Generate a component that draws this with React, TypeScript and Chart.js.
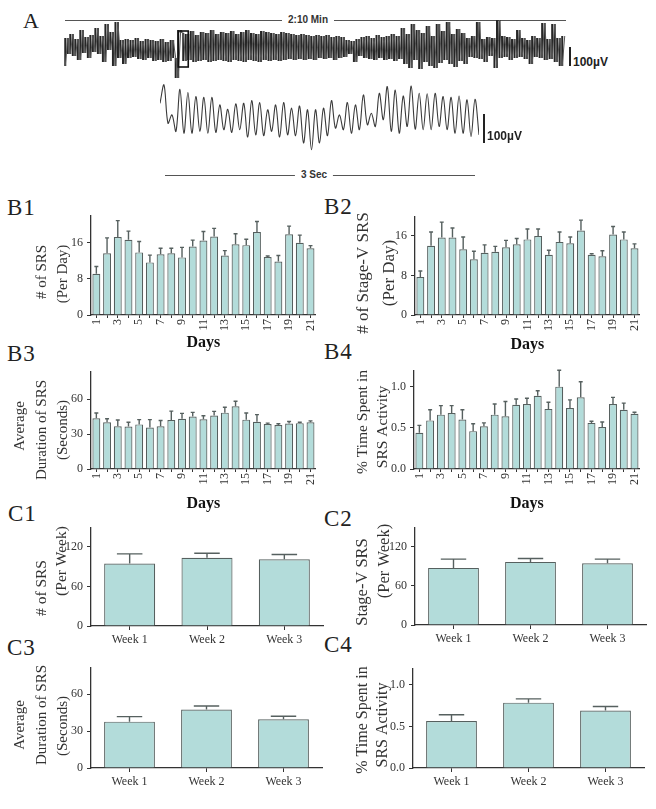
import React, { useEffect, useRef } from "react";
import { Chart, registerables } from "chart.js";
Chart.register(...registerables);

// ---------------- DATA ----------------
const DAYS = ["1","2","3","4","5","6","7","8","9","10","11","12","13","14","15","16","17","18","19","20","21"];
const WEEKS = ["Week 1", "Week 2", "Week 3"];

const B1_MEAN = [9.1, 13.6, 17.2, 16.6, 13.8, 11.6, 13.4, 13.6, 12.7, 15.1, 16.4, 17.3, 13.1, 15.6, 15.4, 18.3, 12.8, 11.8, 17.8, 15.9, 14.7];
const B1_SEM = [1.6, 3.4, 3.6, 1.9, 2.4, 1.6, 1.3, 1.1, 2.2, 1.4, 2.0, 1.8, 1.1, 2.3, 1.3, 2.3, 0.2, 1.3, 1.8, 1.7, 0.6];
const B2_MEAN = [7.7, 14.0, 15.7, 15.7, 13.3, 11.3, 12.6, 12.8, 13.7, 14.3, 15.3, 16.0, 12.2, 14.8, 14.5, 17.1, 12.2, 11.9, 16.3, 15.3, 13.5];
const B2_SEM = [1.2, 2.8, 3.1, 1.9, 2.5, 1.6, 1.6, 1.1, 1.4, 1.2, 2.1, 1.4, 0.9, 2.0, 1.3, 2.1, 0.2, 1.1, 1.6, 1.5, 0.9];
const B3_MEAN = [43.5, 40.2, 36.7, 36.4, 38.3, 35.6, 36.7, 42.1, 43.2, 45.1, 42.7, 45.9, 48.4, 53.8, 42.4, 40.5, 38.6, 37.8, 39.1, 39.4, 40.2];
const B3_SEM = [4.6, 3.0, 5.4, 3.8, 4.1, 6.8, 4.9, 7.6, 4.6, 3.5, 3.0, 3.6, 4.6, 4.4, 5.7, 6.2, 0.8, 1.1, 1.7, 0.8, 1.1];
const B4_MEAN = [0.44, 0.59, 0.66, 0.68, 0.60, 0.46, 0.52, 0.66, 0.64, 0.78, 0.79, 0.89, 0.73, 1.00, 0.74, 0.87, 0.56, 0.51, 0.79, 0.72, 0.67];
const B4_SEM = [0.09, 0.13, 0.11, 0.09, 0.12, 0.09, 0.04, 0.13, 0.18, 0.07, 0.07, 0.06, 0.08, 0.20, 0.10, 0.19, 0.02, 0.06, 0.08, 0.08, 0.02];

const C1_MEAN = [95, 103.7, 101.3];
const C1_SEM = [14.5, 6.7, 7.2];
const C2_MEAN = [87.6, 96.8, 94.8];
const C2_SEM = [13.4, 5.2, 6.2];
const C3_MEAN = [37.7, 47.5, 39.7];
const C3_SEM = [4.1, 2.9, 2.4];
const C4_MEAN = [0.566, 0.786, 0.69];
const C4_SEM = [0.074, 0.045, 0.05];

const TICKS_COUNT_DAY = [0, 8, 16];
const TICKS_DURATION = [0, 30, 60];
const TICKS_PERCENT = [0, 0.5, 1.0];
const TICKS_COUNT_WEEK = [0, 60, 120];
const LABELS_PERCENT = ["0.0", "0.5", "1.0"];

// EEG overview trace (2:10 min), amplitude units
const TOP_TRACE = [
  -18, 10, -6, 14, -8, 9, -12, 18, -5, 11, -10, 13,
  -4, 20, -6, 12, -14, 24, -2, 16, -18, 26, -10, 8, -16,
  9, -10, 8, -9, 10, -11, 7, -12, 9, -10, 8, -13, 7, -12, 9, -14, 6, -13, 8, -10,
  -30, 18,
  15, -13, 14, -12, 17, -14, 13, -13, 16, -12,
  15, -14, 18, -13, 14, -12, 16, -13, 15, -14,
  17, -12, 14, -13, 16, -14, 18, -12, 15, -13,
  14, -14, 17, -12, 16, -13, 15, -12, 14, -13,
  16, -12, 15, -11, 14, -12, 13, -11, 14, -12,
  13, -11, 12, -12, 13, -10, 12, -11, 13, -10,
  11, -12, 12, -10, 11, -9,
  8, -6, 7, -14, 9, -8,
  11, -10, 12, -11, 10, -12, 13, -10, 11, -12, 12, -11, 14, -13, 12, -11,
  20, -16, 14, -20, 24, -12, 18, -21, 15, -14, 22, -18, 12, -20, 24, -15, 17, -12, 26, -16, 14, -19, 19, -13, 15, -16,
  10, -9, 12, -10, 26, -11, 9, -14, 11, -8,
  10, -20, 28, -10, 12, -9, 11, -12, 9, -10,
  18, -9, 10, -11, 8, -16, 12, -9, 10, -10,
  25, -12, 9, -11, 24, -14, 10, -18, 12,
];
// zoomed 3-second segment (µV)
const ZOOM_TRACE = [
  49, 117, -25, 6, -55, 101, -62, 89, -62, 74,
  -55, 71, -62, 71, -59, 43, -49, 27, -59, 47,
  -49, 49, -76, 59, -68, 52, -71, 25, -55, 43,
  -76, 52, -68, 31, -71, 39, -98, 25, -123, 25,
  -98, 31, -71, 59, -43, 6, -49, 52, -62, 43,
  -49, 80, -31, 12, -37, 86, -12, 111, -55, 98,
  -62, 76, -37, 113, -47, 86, -49, 84, -49, 86,
  -37, 74, -49, 71, -62, 76, -62, 62, -74, 64,
  -68,
];
// zoom window marked on the overview trace (indices / amplitudes)
const BOX_START = 45;
const BOX_END = 49;
const BOX_LOW = -19;
const BOX_HIGH = 17;

// ---------------- STYLE ----------------
const SERIF = '"Liberation Serif", "Times New Roman", Times, serif';
const SANS = '"Liberation Sans", Arial, Helvetica, sans-serif';
const INK = "#333333";
const BAR_FILL = "#b3dcda";
const BAR_EDGE = "#56605f";

type TitleLine = { text: string; x: number; cy: number };
type PanelCfg = {
  labels: string[];
  mean: number[];
  sem: number[];
  yMax: number;
  yTicks: number[];
  yTickLabels?: string[];
  yTitle: TitleLine[];
  yTitleSize: number;
  xTitle?: string;
  xTitleCenter?: number;
  canvasLeft: number;
  chartLeft: number;
  chartRight: number;
  chartTop: number;
  chartBottom: number;
  rotate: boolean;
  barPct: number;
};

const errorBarPlugin = {
  id: "errbars",
  afterDatasetsDraw(chart: any, _args: any, opts: any) {
    const ctx = chart.ctx;
    const meta = chart.getDatasetMeta(0);
    const y = chart.scales.y;
    const vals = chart.data.datasets[0].data as number[];
    ctx.save();
    ctx.strokeStyle = BAR_EDGE;
    ctx.lineWidth = 1.4;
    meta.data.forEach((bar: any, i: number) => {
      const top = y.getPixelForValue(vals[i] + opts.errs[i]);
      const cap = bar.width * 0.5;
      ctx.beginPath();
      ctx.moveTo(bar.x, bar.y);
      ctx.lineTo(bar.x, top);
      ctx.moveTo(bar.x - cap / 2, top);
      ctx.lineTo(bar.x + cap / 2, top);
      ctx.stroke();
    });
    ctx.restore();
  },
};

const yTitlePlugin = {
  id: "ytitle",
  afterDraw(chart: any, _a: any, opts: any) {
    const ctx = chart.ctx;
    ctx.save();
    ctx.fillStyle = INK;
    ctx.font = `${opts.size}px ${SERIF}`;
    ctx.textAlign = "center";
    ctx.textBaseline = "middle";
    (opts.lines as TitleLine[]).forEach((ln) => {
      ctx.save();
      ctx.translate(ln.x - opts.left, ln.cy - opts.top);
      ctx.rotate(-Math.PI / 2);
      ctx.fillText(ln.text, 0, 0);
      ctx.restore();
    });
    ctx.restore();
  },
};

function geom(c: PanelCfg) {
  const top = c.chartTop - 6;
  const bottom = c.xTitle ? (c.xTitleCenter as number) + 9.6 : c.chartBottom + 30;
  const width = c.chartRight + 4 - c.canvasLeft;
  return { top, bottom, width, height: Math.round(bottom - top) };
}

function BarPanel({ cfg }: { cfg: PanelCfg }) {
  const ref = useRef<HTMLCanvasElement>(null);
  const g = geom(cfg);
  useEffect(() => {
    const c = cfg;
    const yW = c.chartLeft - c.canvasLeft;
    const xH = g.top + g.height - c.chartBottom;
    const chart = new Chart(ref.current as HTMLCanvasElement, {
      type: "bar",
      data: {
        labels: c.labels,
        datasets: [
          {
            data: c.mean,
            backgroundColor: BAR_FILL,
            borderColor: BAR_EDGE,
            borderWidth: 1.2,
            barPercentage: c.barPct,
            categoryPercentage: 1,
          },
        ],
      },
      options: {
        responsive: false,
        animation: false,
        devicePixelRatio: 1,
        layout: { padding: { top: 6, right: 4, bottom: 0, left: 0 } },
        plugins: {
          legend: { display: false },
          tooltip: { enabled: false },
          // @ts-ignore
          errbars: { errs: c.sem },
          // @ts-ignore
          ytitle: { lines: c.yTitle, size: c.yTitleSize, left: c.canvasLeft, top: g.top },
        },
        scales: {
          x: {
            offset: true,
            grid: { display: true, offset: false, drawOnChartArea: false, drawTicks: true, tickLength: c.rotate ? 3 : 4, color: INK },
            border: { display: true, color: INK, width: 1.3 },
            ticks: {
              autoSkip: false,
              minRotation: c.rotate ? 90 : 0,
              maxRotation: c.rotate ? 90 : 0,
              padding: c.rotate ? 1 : 3,
              color: INK,
              font: { family: SERIF, size: 12 },
              callback: function (this: any, v: any, i: number) {
                if (c.rotate && i % 2 === 1) return "";
                return this.getLabelForValue(v);
              },
            },
            title: c.xTitle
              ? { display: true, text: c.xTitle, color: "#111", font: { family: SERIF, size: 16, weight: "bold", lineHeight: 1.2 }, padding: { top: 0, bottom: 0 } }
              : { display: false },
            afterFit: (s: any) => {
              s.height = xH;
            },
          },
          y: {
            min: 0,
            max: c.yMax,
            grid: { display: true, drawOnChartArea: false, drawTicks: true, tickLength: 4, color: INK },
            border: { display: true, color: INK, width: 1.3 },
            afterBuildTicks: (s: any) => {
              s.ticks = c.yTicks.map((v) => ({ value: v }));
            },
            ticks: {
              padding: 4,
              color: INK,
              font: { family: SERIF, size: 12 },
              callback: (v: any, i: number) => (c.yTickLabels ? c.yTickLabels[i] : String(v)),
            },
            title: { display: false },
            afterFit: (s: any) => {
              s.width = yW;
            },
          },
        },
      },
      plugins: [errorBarPlugin, yTitlePlugin],
    } as any);
    return () => chart.destroy();
  }, [cfg]);
  return (
    <canvas
      ref={ref}
      width={g.width}
      height={g.height}
      style={{ position: "absolute", left: cfg.canvasLeft, top: g.top, width: g.width, height: g.height }}
    />
  );
}

const PANEL_B1: PanelCfg = {
  labels: DAYS, mean: B1_MEAN, sem: B1_SEM, yMax: 22, yTicks: TICKS_COUNT_DAY,
  yTitle: [
    { text: "# of SRS", x: 42, cy: 272 },
    { text: "(Per Day)", x: 63, cy: 274 },
  ],
  yTitleSize: 15,
  xTitle: "Days", xTitleCenter: 342,
  canvasLeft: 0, chartLeft: 91, chartRight: 322, chartTop: 210, chartBottom: 315, rotate: true, barPct: 0.74,
};
const PANEL_B2: PanelCfg = {
  labels: DAYS, mean: B2_MEAN, sem: B2_SEM, yMax: 20, yTicks: TICKS_COUNT_DAY,
  yTitle: [
    { text: "# of Stage-V SRS", x: 364, cy: 273 },
    { text: "(Per Day)", x: 390, cy: 273 },
  ],
  yTitleSize: 17,
  xTitle: "Days", xTitleCenter: 344,
  canvasLeft: 330, chartLeft: 415, chartRight: 646, chartTop: 211, chartBottom: 315, rotate: true, barPct: 0.74,
};
const PANEL_B3: PanelCfg = {
  labels: DAYS, mean: B3_MEAN, sem: B3_SEM, yMax: 84, yTicks: TICKS_DURATION,
  yTitle: [
    { text: "Average", x: 20, cy: 426 },
    { text: "Duration of SRS", x: 42, cy: 430 },
    { text: "(Seconds)", x: 63, cy: 430 },
  ],
  yTitleSize: 15,
  xTitle: "Days", xTitleCenter: 503,
  canvasLeft: 0, chartLeft: 91, chartRight: 322, chartTop: 366, chartBottom: 469, rotate: true, barPct: 0.74,
};
const PANEL_B4: PanelCfg = {
  labels: DAYS, mean: B4_MEAN, sem: B4_SEM, yMax: 1.2, yTicks: TICKS_PERCENT, yTickLabels: LABELS_PERCENT,
  yTitle: [
    { text: "% Time Spent in", x: 363, cy: 422 },
    { text: "SRS Activity", x: 383, cy: 427 },
  ],
  yTitleSize: 15.5,
  xTitle: "Days", xTitleCenter: 503,
  canvasLeft: 330, chartLeft: 414, chartRight: 646, chartTop: 365, chartBottom: 469, rotate: true, barPct: 0.74,
};
const PANEL_C1: PanelCfg = {
  labels: WEEKS, mean: C1_MEAN, sem: C1_SEM, yMax: 150, yTicks: TICKS_COUNT_WEEK,
  yTitle: [
    { text: "# of SRS", x: 42, cy: 588 },
    { text: "(Per Week)", x: 62, cy: 561 },
  ],
  yTitleSize: 15.5,
  canvasLeft: 0, chartLeft: 91, chartRight: 323, chartTop: 522, chartBottom: 626, rotate: false, barPct: 0.66,
};
const PANEL_C2: PanelCfg = {
  labels: WEEKS, mean: C2_MEAN, sem: C2_SEM, yMax: 150, yTicks: TICKS_COUNT_WEEK,
  yTitle: [
    { text: "Stage-V SRS", x: 363, cy: 582 },
    { text: "(Per Week)", x: 385, cy: 561 },
  ],
  yTitleSize: 16.5,
  canvasLeft: 330, chartLeft: 415, chartRight: 646, chartTop: 522, chartBottom: 625, rotate: false, barPct: 0.66,
};
const PANEL_C3: PanelCfg = {
  labels: WEEKS, mean: C3_MEAN, sem: C3_SEM, yMax: 82, yTicks: TICKS_DURATION,
  yTitle: [
    { text: "Average", x: 20, cy: 725 },
    { text: "Duration of SRS", x: 42, cy: 715 },
    { text: "(Seconds)", x: 63, cy: 726 },
  ],
  yTitleSize: 15,
  canvasLeft: 0, chartLeft: 91, chartRight: 322, chartTop: 662, chartBottom: 768, rotate: false, barPct: 0.66,
};
const PANEL_C4: PanelCfg = {
  labels: WEEKS, mean: C4_MEAN, sem: C4_SEM, yMax: 1.2, yTicks: TICKS_PERCENT, yTickLabels: LABELS_PERCENT,
  yTitle: [
    { text: "% Time Spent in", x: 363, cy: 720 },
    { text: "SRS Activity", x: 383, cy: 725 },
  ],
  yTitleSize: 16,
  canvasLeft: 330, chartLeft: 413, chartRight: 644, chartTop: 663, chartBottom: 768, rotate: false, barPct: 0.66,
};

const boxPlugin = {
  id: "zoombox",
  afterDatasetsDraw(chart: any) {
    const x = chart.scales.x;
    const y = chart.scales.y;
    const ctx = chart.ctx;
    const x1 = x.getPixelForValue(BOX_START);
    const x2 = x.getPixelForValue(BOX_END);
    const y1 = y.getPixelForValue(BOX_HIGH);
    const y2 = y.getPixelForValue(BOX_LOW);
    ctx.save();
    ctx.strokeStyle = "#111";
    ctx.lineWidth = 1.6;
    ctx.strokeRect(x1, y1, x2 - x1, y2 - y1);
    ctx.restore();
  },
};

// dense overview trace: line plus a fill of each up/down stroke
function OverviewTrace() {
  const ref = useRef<HTMLCanvasElement>(null);
  useEffect(() => {
    const strokes = TOP_TRACE.map((v, i) => {
      const nxt = i + 1 < TOP_TRACE.length ? TOP_TRACE[i + 1] : v;
      return [Math.min(v, nxt), Math.max(v, nxt)];
    });
    const chart = new Chart(ref.current as HTMLCanvasElement, {
      type: "bar",
      data: {
        labels: TOP_TRACE.map((_, i) => i),
        datasets: [
          {
            type: "line",
            data: TOP_TRACE,
            borderColor: "#555555",
            borderWidth: 1,
            pointRadius: 0,
            tension: 0,
            fill: false,
            order: 0,
          },
          {
            type: "bar",
            data: strokes,
            backgroundColor: "#262626",
            borderWidth: 0,
            barPercentage: 0.8,
            categoryPercentage: 1,
            order: 1,
          },
        ],
      },
      options: {
        responsive: false,
        animation: false,
        devicePixelRatio: 1,
        layout: { padding: 0 },
        plugins: { legend: { display: false }, tooltip: { enabled: false } },
        scales: {
          x: { display: false },
          y: { display: false, min: -40, max: 40 },
        },
      },
      plugins: [boxPlugin],
    } as any);
    return () => chart.destroy();
  }, []);
  return <canvas ref={ref} width={502} height={80} style={{ position: "absolute", left: 64, top: 8, width: 502, height: 80 }} />;
}

function ZoomTrace() {
  const ref = useRef<HTMLCanvasElement>(null);
  useEffect(() => {
    const chart = new Chart(ref.current as HTMLCanvasElement, {
      type: "line",
      data: {
        labels: ZOOM_TRACE.map((_, i) => i),
        datasets: [
          {
            data: ZOOM_TRACE,
            borderColor: "#3a3a3a",
            borderWidth: 1.1,
            pointRadius: 0,
            tension: 0.35,
            fill: false,
          },
        ],
      },
      options: {
        responsive: false,
        animation: false,
        devicePixelRatio: 1,
        layout: { padding: 0 },
        plugins: { legend: { display: false }, tooltip: { enabled: false } },
        scales: {
          x: { display: false, offset: false },
          y: { display: false, min: -150, max: 150 },
        },
      },
    } as any);
    return () => chart.destroy();
  }, []);
  return <canvas ref={ref} width={319} height={81} style={{ position: "absolute", left: 160, top: 76, width: 319, height: 81 }} />;
}

function Label({ text, x, baseline, size = 23 }: { text: string; x: number; baseline: number; size?: number }) {
  return (
    <span
      style={{
        position: "absolute",
        left: x,
        top: baseline - 0.837 * size,
        font: `${size}px ${SERIF}`,
        lineHeight: 1,
        color: "#222",
        whiteSpace: "nowrap",
        letterSpacing: "1px",
      }}
    >
      {text}
    </span>
  );
}

function TimeBar({ left, right, y, text, center }: { left: number; right: number; y: number; text: string; center: number }) {
  return (
    <>
      <div style={{ position: "absolute", left, top: y, width: right - left, height: 0, borderTop: "1px solid #555" }} />
      <span
        style={{
          position: "absolute",
          left: center,
          top: y - 7,
          transform: "translateX(-50%)",
          background: "#fff",
          padding: "0 6px",
          font: `bold 10px ${SANS}`,
          color: "#333",
          lineHeight: "14px",
          whiteSpace: "nowrap",
        }}
      >
        {text}
      </span>
    </>
  );
}

function ScaleBar({ x, y1, y2, textBaseline }: { x: number; y1: number; y2: number; textBaseline: number }) {
  return (
    <>
      <div style={{ position: "absolute", left: x, top: y1, width: 2, height: y2 - y1, background: "#222" }} />
      <span
        style={{
          position: "absolute",
          left: x + 4,
          top: textBaseline - 11,
          font: `bold 12px ${SANS}`,
          lineHeight: "13px",
          color: "#222",
          whiteSpace: "nowrap",
        }}
      >
        100µV
      </span>
    </>
  );
}

export default function App() {
  return (
    <div style={{ position: "absolute", left: 0, top: 0, width: 656, height: 809, background: "#fff", overflow: "hidden" }}>
      <Label text="A" x={23} baseline={28} size={22} />
      <TimeBar left={65} right={566} y={20} text="2:10 Min" center={308} />
      <OverviewTrace />
      <ScaleBar x={569} y1={47} y2={66} textBaseline={67} />
      <ZoomTrace />
      <ScaleBar x={483} y1={114} y2={143} textBaseline={141} />
      <TimeBar left={165} right={475} y={175} text="3 Sec" center={314} />

      <Label text="B1" x={7} baseline={215} />
      <Label text="B2" x={324} baseline={214} />
      <Label text="B3" x={7} baseline={361} />
      <Label text="B4" x={324} baseline={359} />
      <Label text="C1" x={8} baseline={521} />
      <Label text="C2" x={324} baseline={526} />
      <Label text="C3" x={7} baseline={655} />
      <Label text="C4" x={324} baseline={652} />

      <BarPanel cfg={PANEL_B1} />
      <BarPanel cfg={PANEL_B2} />
      <BarPanel cfg={PANEL_B3} />
      <BarPanel cfg={PANEL_B4} />
      <BarPanel cfg={PANEL_C1} />
      <BarPanel cfg={PANEL_C2} />
      <BarPanel cfg={PANEL_C3} />
      <BarPanel cfg={PANEL_C4} />
    </div>
  );
}
